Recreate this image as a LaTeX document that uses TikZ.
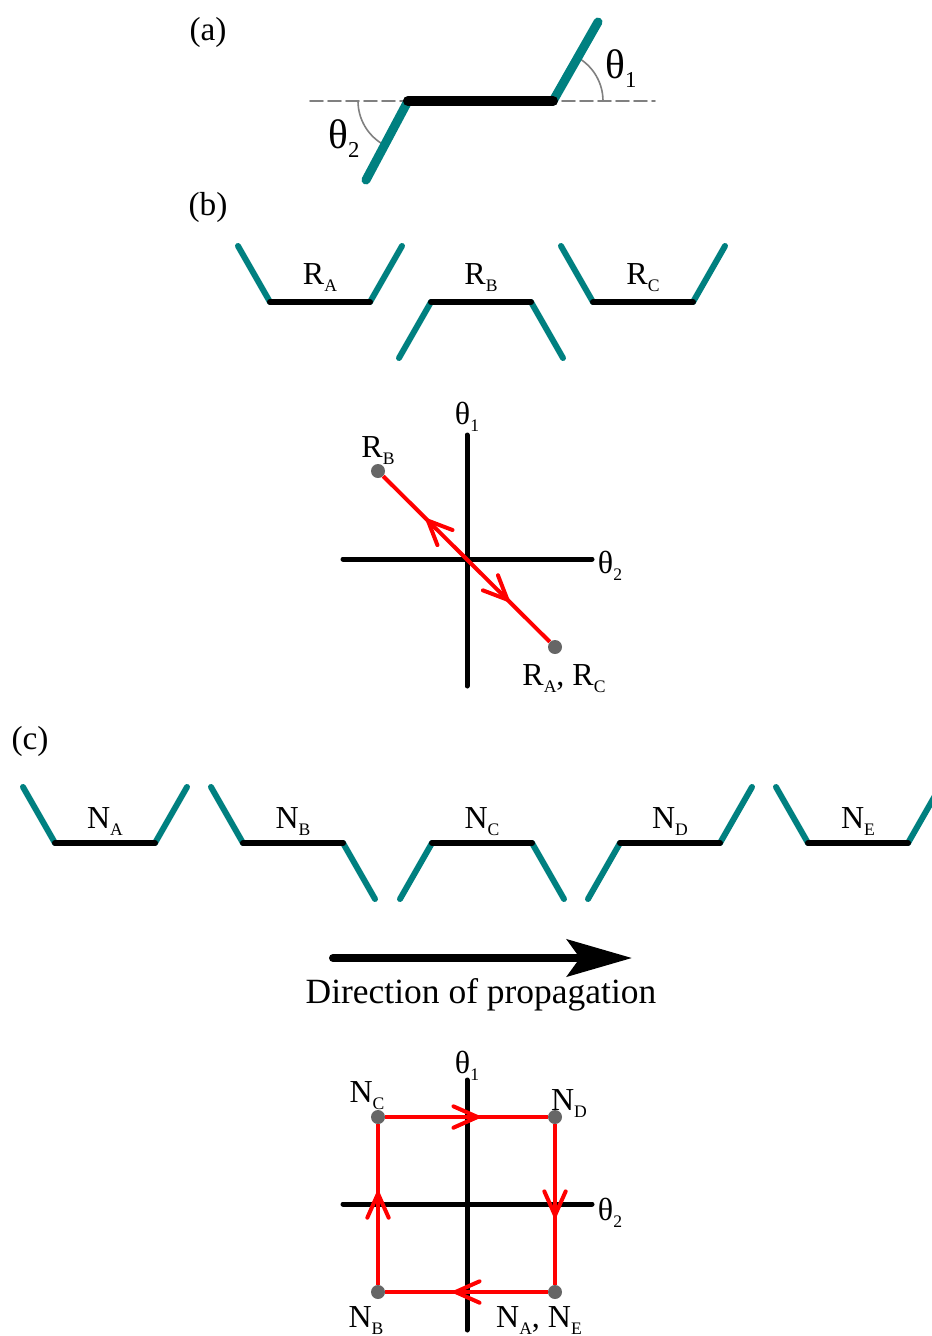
\documentclass[tikz,border=0pt]{standalone}
\usepackage{fontspec}
\setmainfont{Liberation Serif}
\usetikzlibrary{arrows.meta,decorations.markings}
\definecolor{armteal}{RGB}{0,128,128}
\definecolor{loopred}{RGB}{255,0,0}
\definecolor{dotgray}{RGB}{102,102,102}
\newcommand{\lsub}[1]{\raisebox{-0.22em}{\scalebox{0.55}{#1}}}

\begin{document}
\begin{tikzpicture}[x=0.75pt,y=0.75pt,line cap=round,
  arm/.style={armteal,line width=4.5pt},
  bar/.style={black,line width=4.5pt},
  axis/.style={black,line width=3.75pt},
  dot/.style={circle,fill=dotgray,inner sep=0pt,minimum size=10.5pt},
  lbl/.style={font=\fontsize{24}{28}\selectfont,anchor=base,inner sep=0pt},
  panel/.style={font=\fontsize{25}{30}\selectfont,inner sep=0pt},
  barb/.tip={Straight Barb[length=18pt,width=16pt,round]},
  redpath/.style={loopred,line width=3pt,line cap=butt},
  midarrow/.style={postaction={decorate},decoration={markings,mark=at position 0.58 with {\arrow{barb}}}}]
  \useasboundingbox (0,0) rectangle (932,-1336);

  \node[panel] (pa) at (208,-32) {(a)};
  \draw[gray,line width=1.2pt,dash pattern=on 9.75pt off 3.75pt] (310,-101) -- (655,-101);
  \draw[gray,line width=1.2pt] (603,-101) arc[start angle=0,end angle=60,radius=50];
  \draw[gray,line width=1.2pt] (358,-101) arc[start angle=180,end angle=240,radius=50];
  \draw[arm,line width=6.75pt] (408,-101) -- (366,-180);
  \draw[arm,line width=6.75pt] (553,-101) -- (598,-22);
  \draw[bar,line width=7.5pt] (408,-101) -- (553,-101);
  \node[lbl,font=\fontsize{31}{36}\selectfont] (tha) at (621,-78) {θ\lsub{1}};
  \node[lbl,font=\fontsize{31}{36}\selectfont] (thb) at (344,-148) {θ\lsub{2}};

  \node[panel] (pb) at (208,-207) {(b)};
  \foreach \x/\l/\r/\s in {270/1/1/A,431/-1/-1/B,593/1/1/C} {
    \draw[arm] (\x,-302) -- ++(-32,56*\l);
    \draw[arm] (\x+100,-302) -- ++(32,56*\r);
    \draw[bar] (\x,-302) -- ++(100,0);
    \node[lbl] (r\s) at (\x+50,-284) {R\lsub{\s}};
  }
  \draw[axis] (467,-435) -- (467,-686);
  \draw[axis] (343,-559) -- (592,-559);
  \node[lbl] (bth1) at (467,-424) {θ\lsub{1}};
  \node[lbl] (bth2) at (610,-573) {θ\lsub{2}};
  \node[dot] (rb) at (378,-471) {};
  \node[dot] (rac) at (555,-647) {};
  \draw[redpath,postaction={decorate},decoration={markings,
    mark=at position 0.26 with {\arrowreversed{barb}},
    mark=at position 0.754 with {\arrow{barb}}}] (rb) -- (rac);
  \node[lbl] (rblbl) at (378,-457) {R\lsub{B}};
  \node[lbl] (raclbl) at (564,-685) {R\lsub{A}, R\lsub{C}};

  \node[panel] (pc) at (30,-741) {(c)};
  \foreach \x/\l/\r/\s in {55/1/1/A,243/1/-1/B,432/-1/-1/C,620/-1/1/D,808/1/1/E} {
    \draw[arm] (\x,-843) -- ++(-32,56*\l);
    \draw[arm] (\x+100,-843) -- ++(32,56*\r);
    \draw[bar] (\x,-843) -- ++(100,0);
    \node[lbl] (n\s) at (\x+50,-828) {N\lsub{\s}};
  }
  \coordinate (propstart) at (333,-958);
  \coordinate (propend) at (632,-958);
  \draw[line width=6pt,-{Stealth[length=48.75pt,width=27.75pt,inset=9.75pt]}] (propstart) -- (propend);
  \node[font=\fontsize{26.6}{31}\selectfont] (dirtext) at (481,-995) {Direction of propagation};

  \draw[axis] (467,-1080) -- (467,-1330);
  \draw[axis] (343,-1204) -- (592,-1204);
  \node[lbl] (cth1) at (467,-1073) {θ\lsub{1}};
  \node[lbl] (cth2) at (610,-1220) {θ\lsub{2}};
  \node[dot] (nc) at (378,-1117) {};
  \node[dot] (nd) at (555,-1117) {};
  \node[dot] (nb) at (378,-1292) {};
  \node[dot] (nae) at (555,-1292) {};
  \foreach \a/\b in {nb/nc,nc/nd,nd/nae,nae/nb} \draw[redpath,midarrow] (\a) -- (\b);
  \node[lbl] (nclbl) at (367,-1102) {N\lsub{C}};
  \node[lbl] (ndlbl) at (569,-1110) {N\lsub{D}};
  \node[lbl] (nblbl) at (366,-1327) {N\lsub{B}};
  \node[lbl] (naelbl) at (539,-1327) {N\lsub{A}, N\lsub{E}};
\end{tikzpicture}
\end{document}
